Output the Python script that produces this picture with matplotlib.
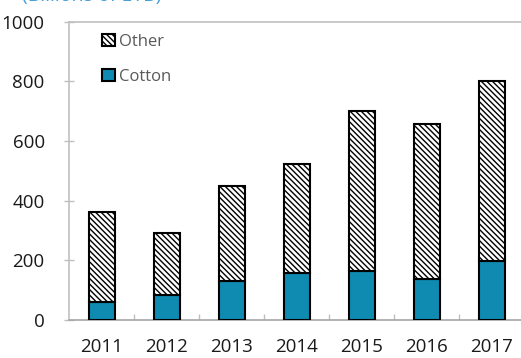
import matplotlib
matplotlib.use("Agg")
import matplotlib.pyplot as plt
from matplotlib.patches import Patch

years = ["2011", "2012", "2013", "2014", "2015", "2016", "2017"]
cotton = [59, 84, 130, 156, 164, 138, 197]
total = [363, 291, 448, 524, 700, 655, 800]
other = [t - c for t, c in zip(total, cotton)]
yticks = [0, 200, 400, 600, 800, 1000]

plt.rcParams['font.family'] = ['Open Sans', 'DejaVu Sans']
plt.rcParams['hatch.linewidth'] = 1.0

fig = plt.figure(figsize=(5.21, 3.58), dpi=100)
ax = fig.add_axes([69/521, 38/358, 455.5/521, 298.5/358])

HATCH = '\\' * 6
x = list(range(len(years)))
cot_color = '#0f8bb2'
ax.bar(x, cotton, width=0.4, color=cot_color, edgecolor='black', linewidth=1.5, zorder=3)
ax.bar(x, other, bottom=cotton, width=0.4, color='white', edgecolor='black',
       hatch=HATCH, linewidth=1.5, zorder=3)

ax.set_xlim(-0.5, 6.5)
ax.set_ylim(0, 1000)
ax.set_yticks(yticks)
ax.set_yticklabels([str(v) for v in yticks], fontsize=13.5, color='#1a1a1a')
ax.set_xticks(x)
ax.set_xticklabels(years, fontsize=13.5, color='#1a1a1a')
ax.tick_params(axis='x', length=0, pad=13)
ax.set_xticks([i + 0.5 for i in x[:-1]], minor=True)
ax.tick_params(axis='x', which='minor', direction='in', length=4, color='#bfbfbf', width=1)
ax.tick_params(axis='y', direction='inout', length=7, color='#bfbfbf', width=1, pad=14)

for s in ['left', 'top', 'bottom']:
    ax.spines[s].set_color('#c0c0c0')
    ax.spines[s].set_linewidth(1.2)
ax.spines['bottom'].set_color('#a6a6a6')
ax.spines['right'].set_visible(False)

handles = [Patch(facecolor='white', edgecolor='black', hatch=HATCH, linewidth=1.5, label='Other'),
           Patch(facecolor=cot_color, edgecolor='black', linewidth=1.5, label='Cotton')]
leg = ax.legend(handles=handles, loc='upper left', bbox_to_anchor=(0.04, 1.01), frameon=False,
                fontsize=12, handlelength=0.75, handleheight=0.75, handletextpad=0.25,
                labelspacing=1.15)
for t in leg.get_texts():
    t.set_color('#595959')

fig.text(22/521, 1 - 0.5/358, "(Billions of ETB)", color='#4a9fd8', fontsize=14,
         ha='left', va='baseline')

fig.savefig("out.png", dpi=100)
